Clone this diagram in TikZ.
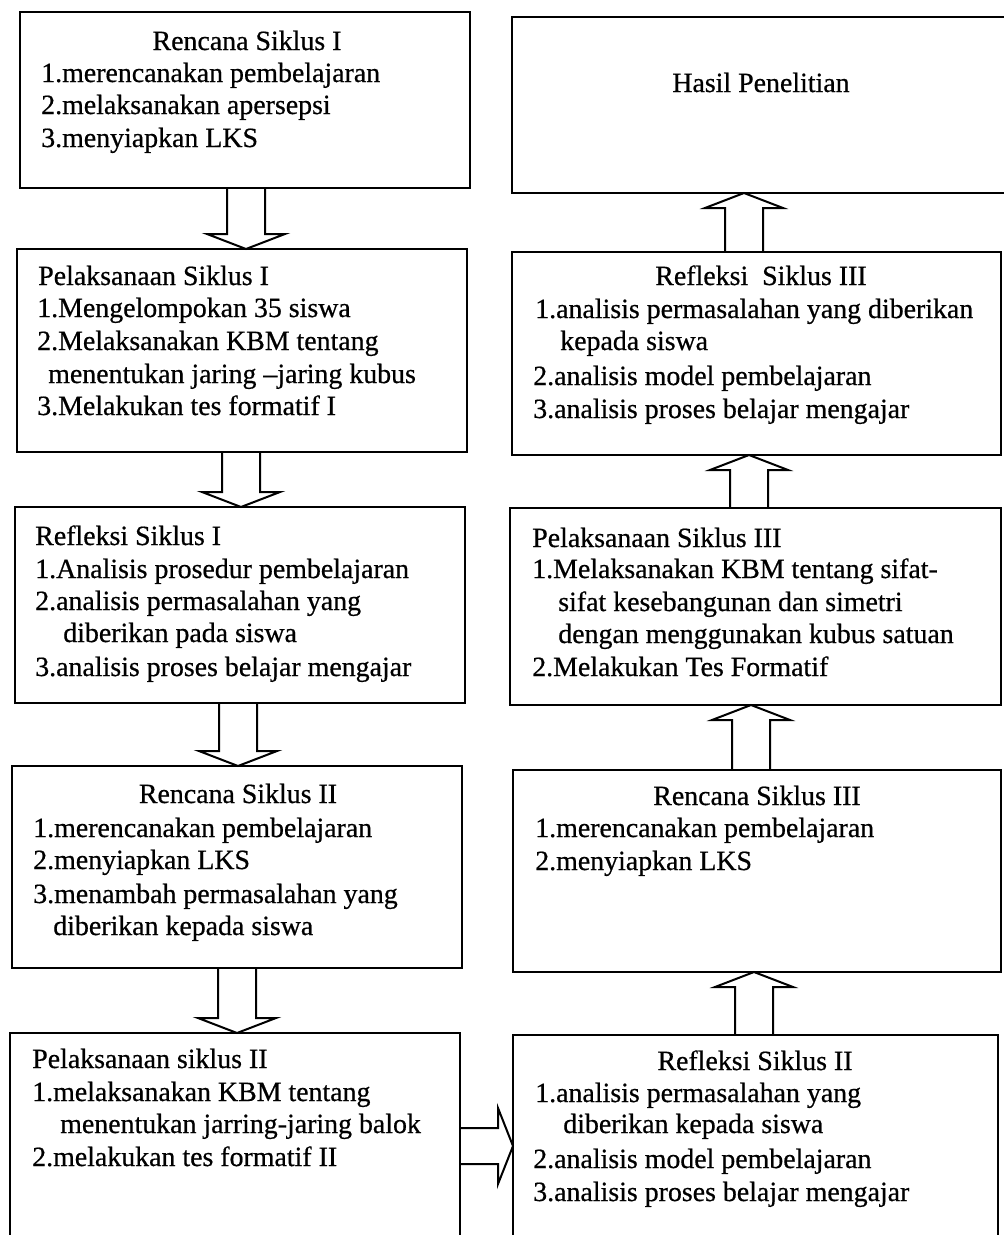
\documentclass[tikz,border=0pt]{standalone}
\usepackage{fontspec}
\setmainfont{Liberation Serif}
\newfontfamily\diagfam{Liberation Serif}[FakeBold=0.6]
\usetikzlibrary{calc}
\newcommand{\diagfont}{\diagfam\fontsize{20.9}{24.5}\selectfont}
\newcommand{\boxnode}[5]{%
  \node[boxstyle, minimum width={(#4-#2)*0.75pt}, minimum height={(#5-#3)*0.75pt}] (#1) at (#2,#3) {};}
% down block arrow: #1 from node, #2 to node, #3 x-coordinate name
\newcommand{\barrowdown}[3]{%
  \draw[blockarrow] ($(#1.south -| #3)+(-19,0)$) -- ($(#2.north -| #3)+(-19,-15)$)
    -- ($(#2.north -| #3)+(-39,-15)$) -- (#2.north -| #3)
    -- ($(#2.north -| #3)+(39,-15)$) -- ($(#2.north -| #3)+(19,-15)$)
    -- ($(#1.south -| #3)+(19,0)$);}
% up block arrow: #1 from node (below), #2 to node (above), #3 x-coordinate name
\newcommand{\barrowup}[3]{%
  \draw[blockarrow] ($(#1.north -| #3)+(-19,0)$) -- ($(#2.south -| #3)+(-19,15)$)
    -- ($(#2.south -| #3)+(-39,15)$) -- (#2.south -| #3)
    -- ($(#2.south -| #3)+(39,15)$) -- ($(#2.south -| #3)+(19,15)$)
    -- ($(#1.north -| #3)+(19,0)$);}
\begin{document}
\begin{tikzpicture}[x=0.75pt,y=-0.75pt,
  boxstyle/.style={draw, line width=1.5pt, rectangle, inner sep=0pt, outer sep=0pt, anchor=north west},
  blockarrow/.style={draw, line width=1.5pt, line join=miter},
  txt/.style={anchor=base west, inner sep=0pt, font=\diagfont},
  ttl/.style={anchor=base, inner sep=0pt, font=\diagfont}]
\useasboundingbox[fill=white] (0,0) rectangle (1003,1235);

% ---------- boxes ----------
\boxnode{L1}{20}{12}{470}{188}
\boxnode{L2}{17}{249}{467}{452}
\boxnode{L3}{15}{507}{465}{703}
\boxnode{L4}{12}{766}{462}{968}
\boxnode{L5}{10}{1033}{460}{1250}
\boxnode{R1}{512}{17}{1015}{193}
\boxnode{R2}{512}{252}{1001}{455}
\boxnode{R3}{510}{508}{1001}{705}
\boxnode{R4}{513}{770}{1001}{972}
\boxnode{R5}{513}{1035}{998}{1250}

% ---------- texts ----------
\node[ttl] (l1t) at (247,50) {Rencana Siklus I};
\node[txt] (l1a) at (41,82) {1.merencanakan pembelajaran};
\node[txt] (l1b) at (41,114) {2.melaksanakan apersepsi};
\node[txt] (l1c) at (41,147) {3.menyiapkan LKS};

\node[txt] (l2t) at (38,285) {Pelaksanaan Siklus I};
\node[txt] (l2a) at (37,317) {1.Mengelompokan 35 siswa};
\node[txt] (l2b) at (37,350) {2.Melaksanakan KBM tentang};
\node[txt] (l2c) at (48,383) {menentukan jaring –jaring kubus};
\node[txt] (l2d) at (37,415) {3.Melakukan tes formatif I};

\node[txt] (l3t) at (35,545) {Refleksi Siklus I};
\node[txt] (l3a) at (35,578) {1.Analisis prosedur pembelajaran};
\node[txt] (l3b) at (35,610) {2.analisis permasalahan yang};
\node[txt] (l3c) at (63,642) {diberikan pada siswa};
\node[txt] (l3d) at (35,676) {3.analisis proses belajar mengajar};

\node[ttl] (l4t) at (238,803) {Rencana Siklus II};
\node[txt] (l4a) at (33,837) {1.merencanakan pembelajaran};
\node[txt] (l4b) at (33,869) {2.menyiapkan LKS};
\node[txt] (l4c) at (33,903) {3.menambah permasalahan yang};
\node[txt] (l4d) at (53,935) {diberikan kepada siswa};

\node[txt] (l5t) at (32,1068) {Pelaksanaan siklus II};
\node[txt] (l5a) at (32,1101) {1.melaksanakan KBM tentang};
\node[txt] (l5b) at (60,1133) {menentukan jarring-jaring balok};
\node[txt] (l5c) at (32,1166) {2.melakukan tes formatif II};

\node[ttl] (r1t) at (761,92) {Hasil Penelitian};

\node[ttl] (r2t) at (761,285) {Refleksi\ \ Siklus III};
\node[txt] (r2a) at (535,318) {1.analisis permasalahan yang diberikan};
\node[txt] (r2b) at (560,350) {kepada siswa};
\node[txt] (r2c) at (533,385) {2.analisis model pembelajaran};
\node[txt] (r2d) at (533,418) {3.analisis proses belajar mengajar};

\node[txt] (r3t) at (532,547) {Pelaksanaan Siklus III};
\node[txt] (r3a) at (532,578) {1.Melaksanakan KBM tentang sifat-};
\node[txt] (r3b) at (558,611) {sifat kesebangunan dan simetri};
\node[txt] (r3c) at (558,643) {dengan menggunakan kubus satuan};
\node[txt] (r3d) at (532,676) {2.Melakukan Tes Formatif};

\node[ttl] (r4t) at (757,805) {Rencana Siklus III};
\node[txt] (r4a) at (535,837) {1.merencanakan pembelajaran};
\node[txt] (r4b) at (535,870) {2.menyiapkan LKS};

\node[ttl] (r5t) at (755,1070) {Refleksi Siklus II};
\node[txt] (r5a) at (535,1102) {1.analisis permasalahan yang};
\node[txt] (r5b) at (563,1133) {diberikan kepada siswa};
\node[txt] (r5c) at (533,1168) {2.analisis model pembelajaran};
\node[txt] (r5d) at (533,1201) {3.analisis proses belajar mengajar};

% ---------- arrow axes ----------
\coordinate (ax1) at (246,0);
\coordinate (ax2) at (241,0);
\coordinate (ax3) at (238,0);
\coordinate (ax4) at (237,0);
\coordinate (bx1) at (744,0);
\coordinate (bx2) at (749,0);
\coordinate (bx3) at (751,0);
\coordinate (bx4) at (754,0);
\coordinate (cy) at (0,1146);

% ---------- block arrows ----------
\barrowdown{L1}{L2}{ax1}
\barrowdown{L2}{L3}{ax2}
\barrowdown{L3}{L4}{ax3}
\barrowdown{L4}{L5}{ax4}
\barrowup{R2}{R1}{bx1}
\barrowup{R3}{R2}{bx2}
\barrowup{R4}{R3}{bx3}
\barrowup{R5}{R4}{bx4}

\draw[blockarrow] ($(L5.east |- cy)+(0,-18)$) -- ($(R5.west |- cy)+(-15,-18)$)
  -- ($(R5.west |- cy)+(-15,-38)$) -- (R5.west |- cy)
  -- ($(R5.west |- cy)+(-15,38)$) -- ($(R5.west |- cy)+(-15,18)$)
  -- ($(L5.east |- cy)+(0,18)$);
\end{tikzpicture}
\end{document}
